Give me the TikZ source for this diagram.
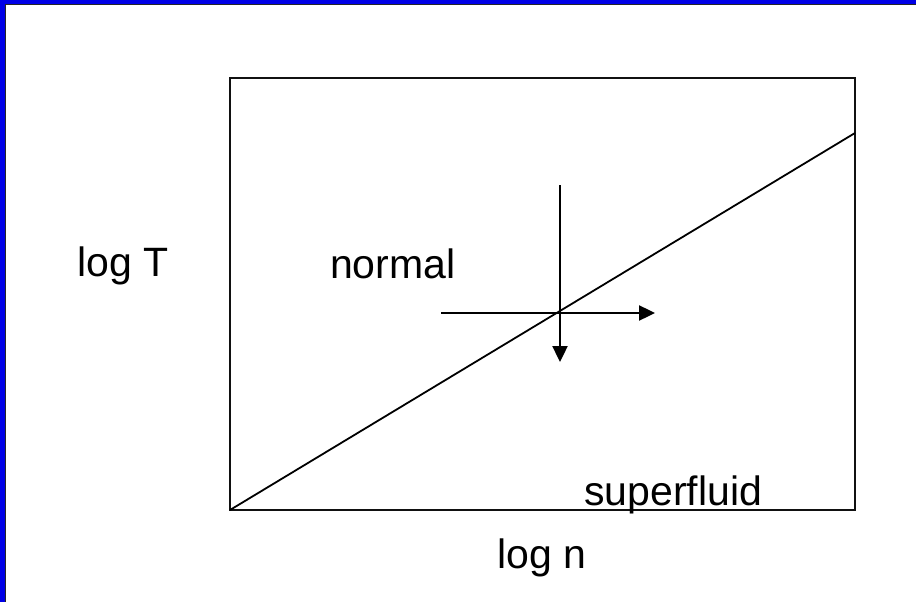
\documentclass[tikz,border=0pt]{standalone}
\usepackage{fontspec}
\setmainfont{Liberation Sans}
\usepackage{tikz}
\usetikzlibrary{arrows.meta,positioning}
\definecolor{FrameBlue}{HTML}{0000E6}
\definecolor{LineBlack}{HTML}{111111}

\begin{document}
\begin{tikzpicture}[
      x=1pt, y=-1pt,
      font=\fontsize{41}{48}\selectfont,
      label/.style={inner sep=0pt,anchor=base west,text=black},
      frameline/.style={draw=LineBlack,line width=2.2pt},
      arr/.style={-{Triangle[length=16pt,width=15pt]},line width=2.4pt,draw=black}
    ]
      \useasboundingbox (0,0) rectangle (916,602);
      \fill[white] (0,0) rectangle (916,602);
      % slide frame
      \fill[FrameBlue] (0,0) rectangle (916,4);
      \fill[FrameBlue] (0,0) rectangle (5,602);
      \draw[line width=1.5pt,draw=black!85] (5.5,602) -- (5.5,4.5) -- (916,4.5);
      % phase diagram box
      \coordinate (sw) at (230,510);
      \coordinate (ne) at (855,78);
      \coordinate (diagend) at (855,133);
      \draw[frameline] (sw) rectangle (ne);
      \draw[line width=1.8pt] (sw) -- (diagend);
      % arrows through the transition line
      \coordinate (cross) at (560,313);
      \coordinate (vtop) at (560,185);
      \coordinate (vbot) at (560,362);
      \coordinate (hleft) at (441,313);
      \coordinate (hright) at (655,313);
      \draw[arr] (vtop) -- (vbot);
      \draw[arr] (hleft) -- (hright);
      % labels
      \node[label] (logT) at (77,276) {log T};
      \node[label] (normal) at (330,278) {normal};
      \node[label] (superfluid) at (584,505) {superfluid};
      \node[label] (logn) at (497,568) {log n};
    \end{tikzpicture}
\end{document}
